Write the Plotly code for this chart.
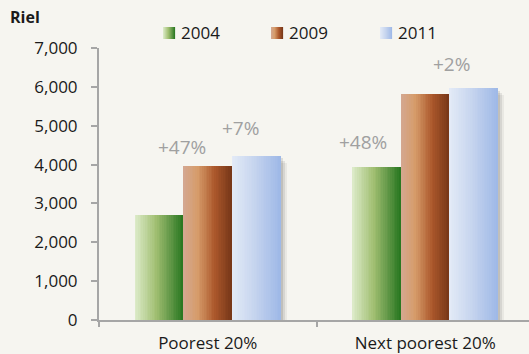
import plotly.graph_objects as go

# ---- data ----
categories = ["Poorest 20%", "Next poorest 20%"]
years = ["2004", "2009", "2011"]
values_2004 = [2700, 3940]
values_2009 = [3960, 5820]
values_2011 = [4220, 5960]
y_ticks = [0, 1000, 2000, 3000, 4000, 5000, 6000, 7000]
y_tick_labels = ["0", "1,000", "2,000", "3,000", "4,000", "5,000", "6,000", "7,000"]
change_labels = ["+47%", "+7%", "+48%", "+2%"]
unit_label = "Riel"

series = [values_2004, values_2009, values_2011]

# gradient stops (left -> right) for each series
gradients = [
    [(0.0, (222, 236, 204)), (0.45, (160, 190, 112)), (0.75, (95, 150, 70)), (1.0, (38, 118, 30))],
    [(0.0, (212, 168, 146)), (0.3, (214, 156, 106)), (0.65, (172, 88, 44)), (1.0, (118, 54, 24))],
    [(0.0, (228, 235, 247)), (0.5, (196, 211, 238)), (1.0, (158, 184, 231))],
]

def interp(stops, t):
    for (t0, c0), (t1, c1) in zip(stops[:-1], stops[1:]):
        if t <= t1:
            f = (t - t0) / (t1 - t0) if t1 > t0 else 0
            c = [round(a + (b - a) * f) for a, b in zip(c0, c1)]
            return "rgb(%d,%d,%d)" % tuple(c)
    return "rgb(%d,%d,%d)" % stops[-1][1]

W, H = 529, 354
ML, MR, MT, MB = 99, 0, 48, 34
plot_w = W - ML - MR
plot_h = H - MT - MB
cat_px = 217.5
x_range = [-0.5, -0.5 + plot_w / cat_px]
bw = 48.5 / cat_px          # bar width in category units
N = 28                      # gradient slices per bar

xs = list(range(len(categories)))
fig = go.Figure()

# soft shadows
for s, vals in enumerate(series):
    for k, (dx, a) in enumerate([(2, 0.10), (4, 0.08), (6, 0.05)]):
        fig.add_trace(go.Bar(
            x=xs, y=[v - 60 * (k + 1) for v in vals],
            offset=(s - 1.5) * bw + dx / cat_px, width=bw,
            marker=dict(color="rgba(0,0,0,%g)" % a, line=dict(width=0)),
            showlegend=False, hoverinfo="skip"))

# gradient bars built from thin slices
for s, vals in enumerate(series):
    for k in range(N):
        t = (k + 0.5) / N
        fig.add_trace(go.Bar(
            x=xs, y=vals,
            offset=(s - 1.5) * bw + k * bw / N,
            width=bw / N * (1.08 if k < N - 1 else 1.0),
            marker=dict(color=interp(gradients[s], t), line=dict(width=0)),
            showlegend=False, hoverinfo="skip"))

# change labels anchored to bars: (series, category, xshift, yshift)
anchors = [(1, 0, -26, 19), (2, 0, -16, 28), (0, 1, -14, 25), (2, 1, -22, 24)]
annotations = []
for text, (s, c, dx, dy) in zip(change_labels, anchors):
    annotations.append(dict(
        x=c + (s - 1) * bw, y=series[s][c], xref="x", yref="y",
        text=text, showarrow=False, xshift=dx, yshift=dy,
        xanchor="center", yanchor="middle",
        font=dict(family="Open Sans", size=19, color="#a0a0a0")))

def px2paper(px, py):
    return (px - ML) / plot_w, (H - MB - py) / plot_h

# unit label
ux, uy = px2paper(8, 17)
annotations.append(dict(x=ux, y=uy, xref="paper", yref="paper", text="<b>%s</b>" % unit_label,
                        showarrow=False, xanchor="left", yanchor="middle",
                        font=dict(family="Open Sans", size=16, color="#1a1a1a")))

# manual legend with gradient swatches
shapes = []
leg_x = [163, 271, 380]
leg_y = 33
for s, yr in enumerate(years):
    x0 = leg_x[s]
    M = 12
    for k in range(M):
        a0, b0 = px2paper(x0 + k, leg_y - 6)
        a1, b1 = px2paper(x0 + k + 1.1, leg_y + 6)
        shapes.append(dict(type="rect", xref="paper", yref="paper", x0=a0, x1=a1, y0=b1, y1=b0,
                           fillcolor=interp(gradients[s], (k + 0.5) / M), line=dict(width=0),
                           layer="above"))
    tx, ty = px2paper(x0 + 16, leg_y)
    annotations.append(dict(x=tx, y=ty, xref="paper", yref="paper", text=yr, showarrow=False,
                            xanchor="left", yanchor="middle",
                            font=dict(family="Open Sans", size=17, color="#1a1a1a")))

fig.update_layout(
    width=W, height=H,
    margin=dict(l=ML, r=MR, t=MT, b=MB, pad=0, autoexpand=False),
    paper_bgcolor="#f6f5f0", plot_bgcolor="#f6f5f0",
    barmode="overlay", bargap=0,
    showlegend=False,
    annotations=annotations, shapes=shapes,
    font=dict(family="Open Sans", size=17, color="#1a1a1a"),
)
fig.update_xaxes(
    type="linear", range=x_range, tickmode="array", tickvals=xs, ticktext=categories,
    showgrid=False, zeroline=False, showline=True, linecolor="#a6a6a6", linewidth=2,
    ticks="", ticklabelstandoff=7, automargin=False,
    tickfont=dict(family="Open Sans", size=17, color="#1a1a1a"),
)
# boundary ticks for the category axis drawn as a second overlay axis
fig.update_layout(xaxis2=dict(
    overlaying="x", range=x_range, tickmode="array", tickvals=[-0.5, 0.5, 1.5],
    showticklabels=False, ticks="outside", ticklen=6, tickcolor="#a6a6a6", tickwidth=2,
    showgrid=False, zeroline=False, showline=False, side="bottom", automargin=False))
fig.add_trace(go.Scatter(x=[None], y=[None], xaxis="x2", showlegend=False, hoverinfo="skip"))
fig.update_yaxes(
    range=[0, 7000], tickmode="array", tickvals=y_ticks, ticktext=y_tick_labels,
    showgrid=False, zeroline=False, showline=True, linecolor="#a6a6a6", linewidth=2,
    ticks="outside", ticklen=6, tickcolor="#a6a6a6", tickwidth=2, ticklabelstandoff=10,
    automargin=False,
    tickfont=dict(family="Open Sans", size=17, color="#1a1a1a"),
)

fig.write_html("out.html", config={"displayModeBar": False},
               post_script="document.body.style.margin='0';")
